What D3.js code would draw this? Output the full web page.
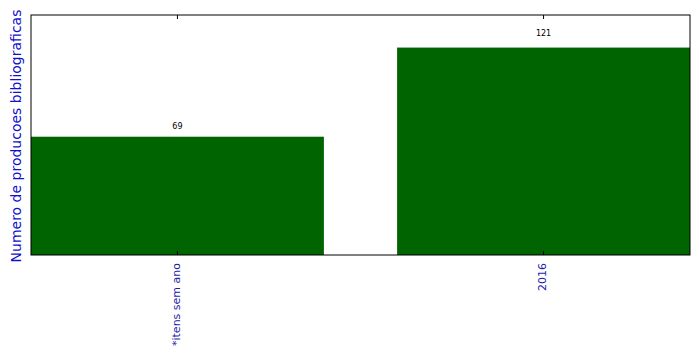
<!DOCTYPE html>
<html>
<head>
<meta charset="utf-8">
<script src="https://cdn.jsdelivr.net/npm/d3@7"></script>
<style>
  body { margin: 0; background: #fff; }
  text { font-family: "DejaVu Sans", sans-serif; }
</style>
</head>
<body>
<script>
// chart data
var categories = ["*itens sem ano", "2016"];
var counts = [69, 121];
var yMax = 140;

var svgWidth = 699;
var svgHeight = 355;

var chartMargin = { top: 15, right: 9, bottom: 100, left: 31 };
var chartWidth = svgWidth - chartMargin.left - chartMargin.right;
var chartHeight = svgHeight - chartMargin.top - chartMargin.bottom;

var svg = d3.select("body")
  .append("svg")
  .attr("width", svgWidth)
  .attr("height", svgHeight);

var chartGroup = svg.append("g")
  .attr("transform", `translate(${chartMargin.left}, ${chartMargin.top})`);

var xBandScale = d3.scaleBand()
  .domain(categories)
  .range([0, chartWidth])
  .paddingInner(0.2)
  .paddingOuter(0);

var yLinearScale = d3.scaleLinear()
  .domain([0, yMax])
  .range([chartHeight, 0]);

var data = categories.map((c, i) => ({ cat: c, val: counts[i] }));

// bars
chartGroup.selectAll(".bar")
  .data(data)
  .enter()
  .append("rect")
  .attr("class", "bar")
  .attr("x", d => xBandScale(d.cat))
  .attr("y", d => yLinearScale(d.val))
  .attr("width", xBandScale.bandwidth())
  .attr("height", d => chartHeight - yLinearScale(d.val))
  .attr("fill", "#006400");

// value labels just above each bar
chartGroup.selectAll(".val")
  .data(data)
  .enter()
  .append("text")
  .attr("class", "val")
  .attr("x", d => xBandScale(d.cat) + xBandScale.bandwidth() / 2)
  .attr("y", d => yLinearScale(d.val * 1.05) - 1.5)
  .attr("text-anchor", "middle")
  .attr("font-size", "8px")
  .attr("fill", "#000")
  .text(d => d.val);

// bottom axis, ticks pointing inward, rotated labels
var bottomAxis = d3.axisBottom(xBandScale).tickSizeInner(-4).tickSizeOuter(0).tickPadding(8);
var xAxis = chartGroup.append("g")
  .attr("transform", `translate(0, ${chartHeight})`)
  .call(bottomAxis);
xAxis.select(".domain").remove();
xAxis.selectAll("line").attr("stroke", "#000");
xAxis.selectAll("text")
  .attr("font-size", "11px")
  .attr("fill", "#1c1ca8")
  .attr("text-anchor", "end")
  .attr("transform", "rotate(-90)")
  .attr("x", -8)
  .attr("y", -1)
  .attr("dy", "0.35em");

// top axis ticks (inward)
var topAxis = d3.axisTop(xBandScale).tickSizeInner(-4).tickSizeOuter(0).tickFormat("");
var xTop = chartGroup.append("g").call(topAxis);
xTop.select(".domain").remove();
xTop.selectAll("line").attr("stroke", "#000");

// frame
chartGroup.append("rect")
  .attr("x", 0)
  .attr("y", 0)
  .attr("width", chartWidth)
  .attr("height", chartHeight)
  .attr("fill", "none")
  .attr("stroke", "#000")
  .attr("stroke-width", 1);

// y axis title
svg.append("text")
  .attr("transform", `translate(21, ${chartMargin.top + chartHeight / 2 + 1}) rotate(-90)`)
  .attr("text-anchor", "middle")
  .attr("font-size", "14px")
  .attr("fill", "#1010cc")
  .text("Numero de producoes bibliograficas");
</script>
</body>
</html>
